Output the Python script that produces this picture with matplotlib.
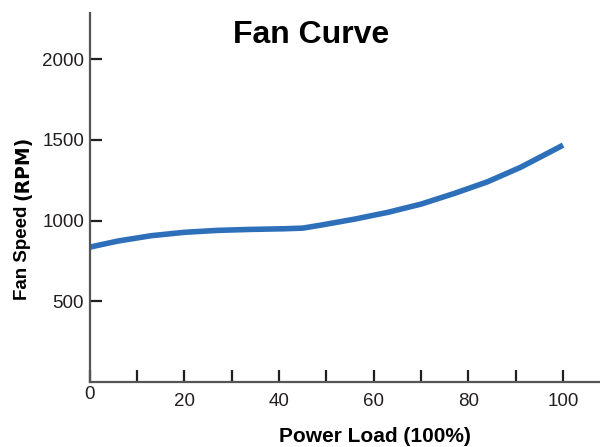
import matplotlib
matplotlib.use("Agg")
import matplotlib.pyplot as plt

# 读图估计的数据
power_load = [0, 6, 13, 20, 27, 34, 41, 45, 48.5, 52, 56, 63, 70, 77, 84, 91, 98, 100]
fan_speed = [835, 873, 906, 927, 939, 945, 949, 953, 970, 988, 1009, 1051,
             1102, 1168, 1240, 1330, 1437, 1468]
x_ticks = [0, 10, 20, 30, 40, 50, 60, 70, 80, 90, 100]
x_tick_labels = ["", "", "20", "", "40", "", "60", "", "80", "", "100"]
y_ticks = [500, 1000, 1500, 2000]

plt.rcParams["font.family"] = ["Liberation Sans", "DejaVu Sans"]

fig = plt.figure(figsize=(6, 4.47), dpi=100)
ax = fig.add_axes([0.1495, 0.146, 0.8505, 0.824])

ax.plot(power_load, fan_speed, color="#2e6fba", linewidth=4.0,
        solid_capstyle="butt", solid_joinstyle="round")

ax.set_xlim(0, 107.8)
ax.set_ylim(0, 2285)

for side in ("top", "right"):
    ax.spines[side].set_visible(False)
for side in ("left", "bottom"):
    ax.spines[side].set_color("#555555")
    ax.spines[side].set_linewidth(1.6)

ax.set_xticks(x_ticks)
ax.set_xticklabels(x_tick_labels)
ax.set_yticks(y_ticks)
ax.tick_params(axis="both", direction="in", length=8.5, width=1.6,
               color="#231f20", labelcolor="#231f20", labelsize=13.5)
ax.tick_params(axis="x", pad=8)
ax.tick_params(axis="y", pad=4)

# 原点的 0 单独放，比其它刻度标签高一点
ax.text(0, -0.012, "0", transform=ax.get_xaxis_transform(),
        ha="center", va="top", fontsize=13.5, color="#231f20")

fig.text(311 / 600, 1 - 35 / 447, "Fan Curve", ha="center", va="center",
         fontsize=23, fontweight="bold", color="black")
fig.text(375 / 600, 1 - 437 / 447, "Power Load (100%)", ha="center",
         va="center", fontsize=15, fontweight="bold", color="black")
fig.text(23 / 600, 1 - 253 / 447, "Fan Speed", ha="center", va="center",
         rotation=90, fontsize=13.5, fontweight="bold", color="black")
fig.text(23 / 600, 1 - 168 / 447, "(RPM)", ha="center", va="center",
         rotation=90, fontsize=13.5, fontweight="bold", color="black",
         family=["DejaVu Sans"])

fig.savefig("out.png", dpi=100)
